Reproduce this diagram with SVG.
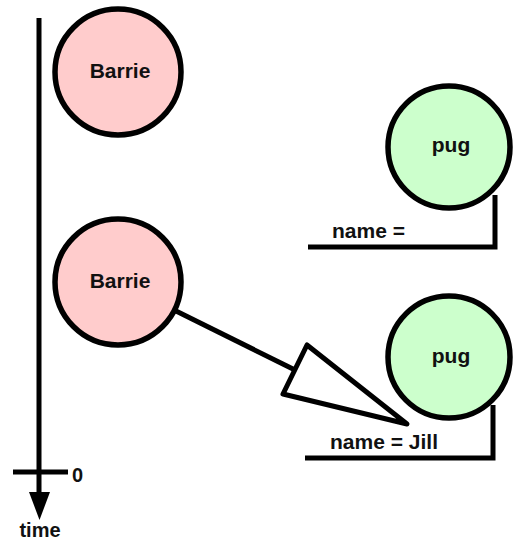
<svg xmlns="http://www.w3.org/2000/svg" width="515" height="543" viewBox="0 0 515 543">
<style>
.node circle{stroke:#000;stroke-width:5.5}
.person circle{fill:#ffcccc}
.dog circle{fill:#ccffcc}
text{font-family:"Liberation Sans",Arial,sans-serif;font-weight:bold;fill:#111}
.lbl{font-size:21px;text-anchor:middle}
.fld{font-size:21px}
.ax{font-size:20px}
.ln{fill:none;stroke:#000;stroke-width:5}
</style>
<rect width="515" height="543" fill="#fff"/>
<g id="timeline">
<line x1="39" y1="18" x2="39" y2="495" class="ln"/>
<line x1="13" y1="472" x2="68" y2="472" class="ln"/>
<polygon points="29,492 50,492 39.5,520" fill="#000"/>
<text x="72" y="482" class="ax">0</text>
<text x="40" y="537" class="ax" text-anchor="middle">time</text>
</g>
<g id="barrie1" class="node person">
<circle cx="118" cy="72" r="63"/>
<text x="120" y="78" class="lbl">Barrie</text>
</g>
<g id="barrie2" class="node person">
<circle cx="118" cy="282" r="63"/>
<text x="120" y="288" class="lbl">Barrie</text>
</g>
<g id="pug1" class="node dog">
<circle cx="449" cy="147" r="61"/>
<text x="451" y="152" class="lbl">pug</text>
<polyline points="495,195 495,247 308,247" class="ln"/>
<text x="332" y="238" class="fld">name =</text>
</g>
<g id="pug2" class="node dog">
<circle cx="449" cy="357" r="61"/>
<text x="451" y="363" class="lbl">pug</text>
<polyline points="493,405 493,458 305,458" class="ln"/>
<text x="330" y="449" class="fld">name = Jill</text>
</g>
<g id="connectors">
<line x1="176" y1="311" x2="295" y2="370" class="ln"/>
<polygon points="307,345 283,394 407,424" fill="#fff" stroke="#000" stroke-width="5" stroke-linejoin="round"/>
</g>
</svg>
